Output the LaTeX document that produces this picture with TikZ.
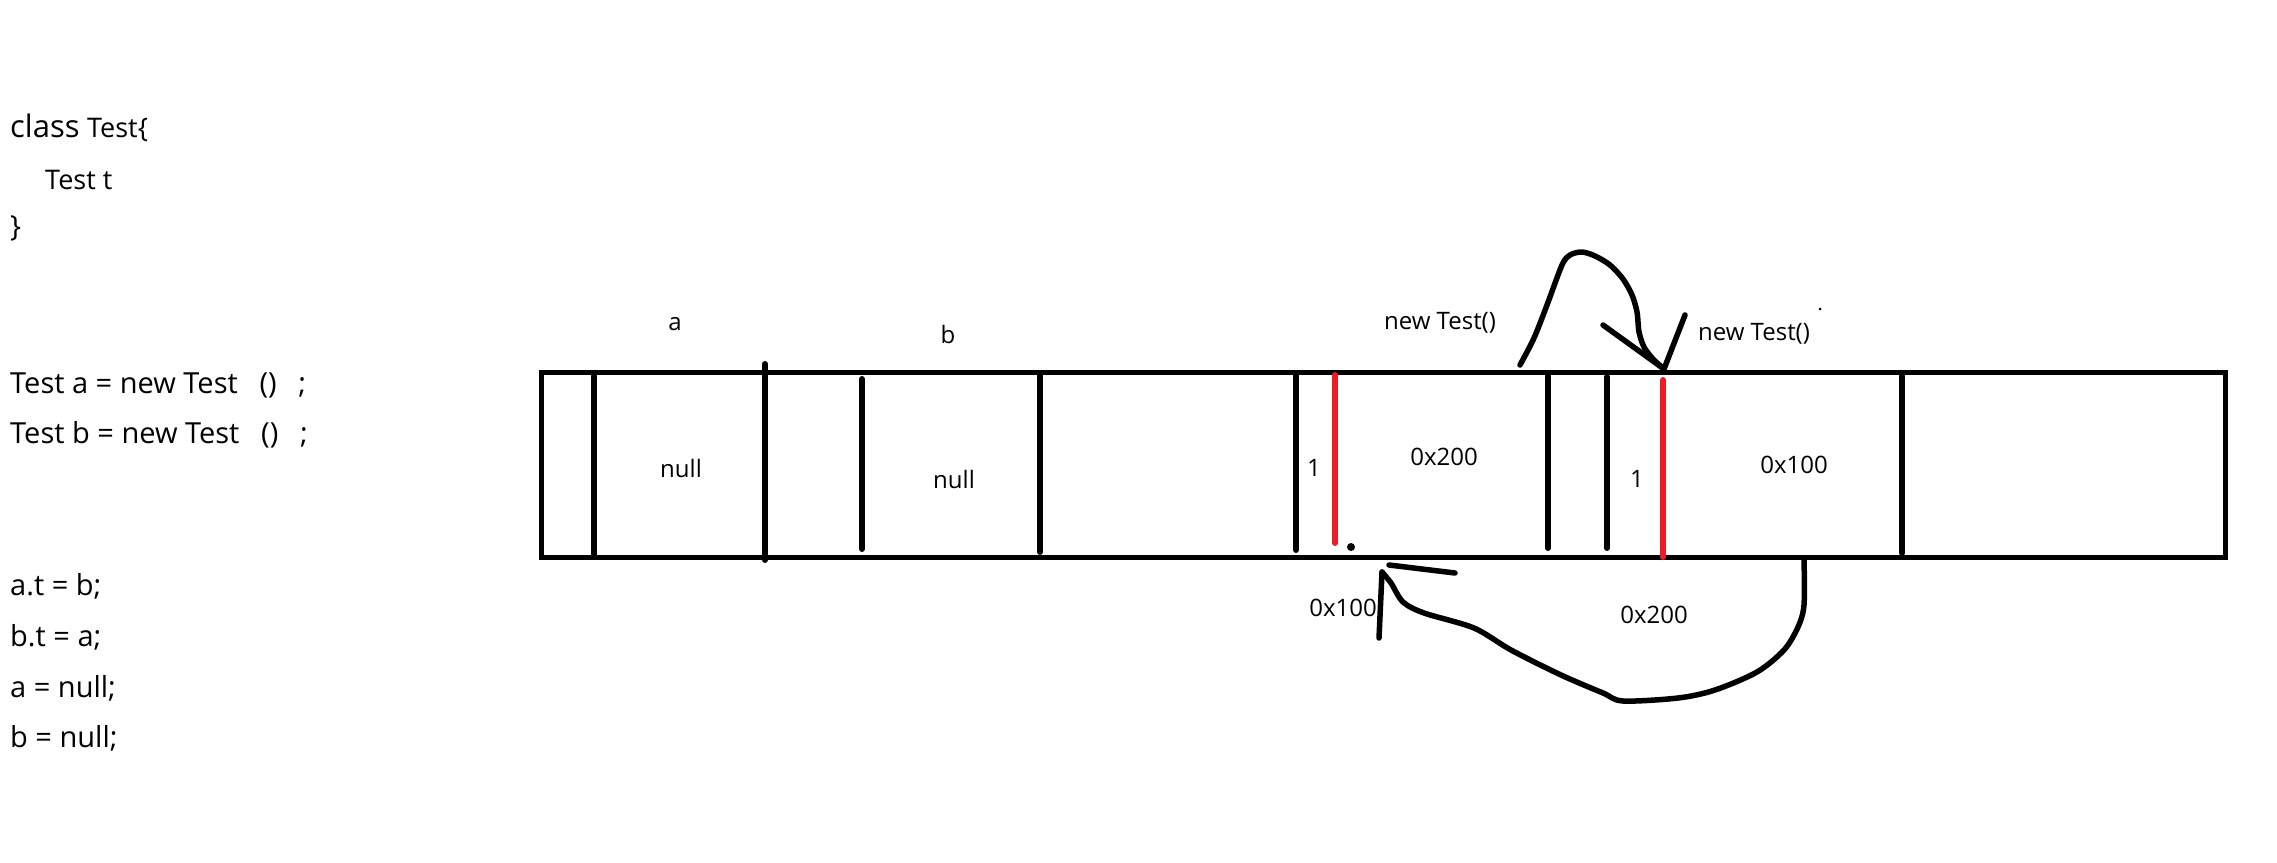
\documentclass[tikz,border=0pt]{standalone}
\usepackage{fontspec}
\setmainfont{Open Sans}
\usepackage{xcolor}
\usetikzlibrary{positioning}
\definecolor{heapred}{RGB}{237,28,36}

\begin{document}
\begin{tikzpicture}[x=1pt, y=-1pt,
    code/.style={anchor=base west, inner sep=0pt, font=\fontsize{29}{35}\selectfont},
    lbl/.style={inner sep=0pt, font=\fontsize{24}{29}\selectfont},
    wall/.style={line width=6pt, line cap=round},
    redwall/.style={wall, draw=heapred},
    freehand/.style={line width=5.5pt, line cap=round, line join=round}
  ]
    \useasboundingbox (0,0) rectangle (2277,862);

    % source code
    \node[code] (cls) at (10,137) {{\fontsize{31}{37}\selectfont class} {\fontsize{27}{32}\selectfont Test\{}};
    \node[code, font=\fontsize{27}{32}\selectfont] (fld) at (45,189) {Test t};
    \node[code] (clsend) at (10,236) {\}};
    \node[code] (newa) at (10,393) {Test a = new Test\hspace{0.75em}()\hspace{0.75em};};
    \node[code] (newb) at (10,443) {Test b = new Test\hspace{0.75em}()\hspace{0.75em};};
    \node[code] (atb) at (10,595) {a.t = b;};
    \node[code] (bta) at (10,646) {b.t = a;};
    \node[code] (anull) at (10,697) {a = null;};
    \node[code] (bnull) at (10,747) {b = null;};

    % heap strip
    \node[draw, line width=5pt, inner sep=0pt, minimum width=1684pt, minimum height=185pt, anchor=north west] (heap) at (539,370) {};
    \foreach \x/\t/\b in {594/376/557, 765/364/560, 862/379/549, 1040/375/552, 1296/375/550, 1548/376/548, 1607/377/548, 1902/376/553}
      \draw[wall] (\x,\t) -- (\x,\b);
    \foreach \x/\t/\b in {1335/375/543, 1663/380/557}
      \draw[redwall] (\x,\t) -- (\x,\b);

    % labels
    \node[lbl] (vara) at (675,324) {a};
    \node[lbl] (varb) at (948,334) {b};
    \node[lbl] (nulla) at (681,468) {null};
    \node[lbl] (nullb) at (954,479) {null};
    \node[lbl] (cnta) at (1314,468) {1};
    \node[lbl] (refa) at (1444,457) {0x200};
    \node[lbl] (cntb) at (1637,479) {1};
    \node[lbl] (refb) at (1794,465) {0x100};
    \node[lbl] (objb) at (1440,323) {new Test()};
    \node[lbl] (obja) at (1754,334) {new Test()};
    \node[lbl] (addra) at (1343,608) {0x100};
    \node[lbl] (addrb) at (1654,615) {0x200};
    \fill (1351,547) circle (4pt);
    \fill (1820,309) circle (1.5pt);

    % reference arrows
    \coordinate (loopstart) at (1520,365);
    \coordinate (looptip) at (1664,369);
    \draw[freehand] plot[smooth, tension=0.5] coordinates {(loopstart) (1534,338) (1547,305) (1562,265) (1570,255) (1582,252) (1595,256) (1610,265) (1623,279) (1632,295) (1637,312) (1639,332) (1644,347) (1653,359) (looptip)};
    \draw[freehand] (1603,325) -- (looptip) -- (1685,315);

    \coordinate (backstart) at (1804,558);
    \coordinate (backtip) at (1382,572);
    \draw[freehand] plot[smooth, tension=0.5] coordinates {(backstart) (1804,605) (1798,627) (1784,650) (1757,672) (1715,690) (1678,698) (1623,701) (1603,693) (1561,675) (1511,650) (1474,628) (1424,613) (1403,602) (1391,583) (backtip)};
    \draw[freehand] (1389,565) -- (1455,573);
    \draw[freehand] (backtip) -- (1379,638);
\end{tikzpicture}
\end{document}
